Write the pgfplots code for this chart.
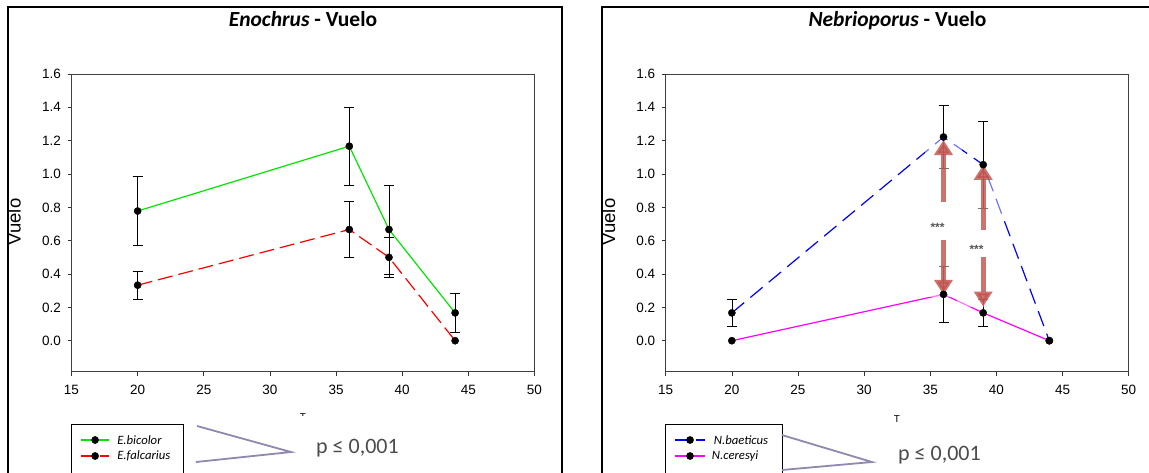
\documentclass[border=0pt]{standalone}
\usepackage{fontspec}
\setmainfont{Liberation Sans}
\newfontfamily\calibri{Carlito}
\usepackage{pgfplots}
\pgfplotsset{compat=1.18}
\usepackage{pgfplotstable}
\usetikzlibrary{arrows.meta}

\definecolor{cgreen}{RGB}{0,230,0}
\definecolor{cred}{RGB}{255,0,0}
\definecolor{cblue}{RGB}{0,0,255}
\definecolor{cmag}{RGB}{255,0,255}
\definecolor{arrowred}{RGB}{192,80,77}
\definecolor{chev}{RGB}{145,135,175}
\definecolor{ptext}{RGB}{75,75,75}

\pgfplotstableread{
x y e
20 0.778 0.205
36 1.167 0.235
39 0.667 0.266
44 0.167 0.117
}\bicolor
\pgfplotstableread{
x y e
20 0.333 0.083
36 0.667 0.167
39 0.500 0.120
44 0.000 0
}\falcarius
\pgfplotstableread{
x y e
20 0.167 0.083
36 1.222 0.190
39 1.056 0.260
44 0.000 0
}\baeticus
\pgfplotstableread{
x y e
20 0.000 0
36 0.278 0.166
39 0.167 0.083
44 0.000 0
}\ceresyi

\tikzset{legtext/.style={anchor=west, inner sep=0pt, font=\calibri\itshape\fontsize{12.7}{15}\selectfont}}

\pgfplotsset{
  vstyle/.style={
    scale only axis, width=463pt, height=297.7pt,
    xmin=15, xmax=50, ymin=-0.186, ymax=1.6,
    xtick={15,20,25,30,35,40,45,50},
    ytick={0,0.2,0.4,0.6,0.8,1.0,1.2,1.4,1.6},
    tick pos=left, tick align=outside, major tick length=4pt,
    tick style={black!80, line width=0.6pt},
    axis line style={black!75, line width=0.8pt},
    ticklabel style={font=\fontsize{13.5}{14}\selectfont},
    /pgf/number format/assume math mode=true,
    yticklabel style={/pgf/number format/.cd, fixed, fixed zerofill, precision=1, /tikz/.cd, xshift=-3pt},
    xticklabel style={yshift=-6pt},
  },
  legaxis/.style={
    scale only axis, x=1pt, y=1pt,
    xmin=0, xmax=#1, ymin=0, ymax=56,
    xtick=\empty, ytick=\empty, clip=false,
    axis line style={black, line width=0.8pt},
  },
  sline/.style={draw=#1, line width=1.2pt, mark=none},
  dots/.style={forget plot, only marks, black, mark=*, mark size=3.6pt},
  ebar/.style={forget plot, draw=none, mark=none,
    restrict expr to domain={\thisrow{e}}{0.001:5},
    error bars/.cd, y dir=both, y explicit,
    error bar style={draw=black, line width=0.7pt, solid},
    error mark options={rotate=90, draw=black, mark size=5pt, line width=0.7pt, solid}},
}

\begin{document}
\begin{tikzpicture}[x=1pt,y=1pt]
\useasboundingbox (0,0) rectangle (1149,-472);
\begin{scope}
\clip (0,0) rectangle (1149,-472);
\fill[white] (0,0) rectangle (1149,-472);

% ---------- left panel ----------
\node[rotate=90, anchor=base, font=\fontsize{18.5}{20}\selectfont] at (20.7,-222) {Vuelo};
\begin{axis}[vstyle, at={(71.5pt,-371.7pt)}, anchor=south west]
\addplot[ebar] table[x=x, y=y, y error=e] {\bicolor};
\addplot[ebar] table[x=x, y=y, y error=e] {\falcarius};
\addplot[sline=cgreen] table[x=x, y=y] {\bicolor};
\addplot[sline=cred, dash pattern=on 15pt off 6pt] table[x=x, y=y] {\falcarius};
\addplot[dots] table[x=x, y=y] {\bicolor};
\addplot[dots] table[x=x, y=y] {\falcarius};
\end{axis}
% legend (left)
\begin{axis}[legaxis=111.7, at={(71.5pt,-480pt)}, anchor=south west]
\addplot[sline=cgreen] coordinates {(9.6,40) (37.6,40)};
\addplot[sline=cred] coordinates {(9.6,24) (23.6,24)};
\addplot[sline=cred] coordinates {(28.6,24) (37.6,24)};
\addplot[dots] coordinates {(23.6,40) (23.6,24)};
\node[legtext] at (axis cs:45.6,40) {E.bicolor};
\node[legtext] at (axis cs:45.6,24) {E.falcarius};
\end{axis}
\node[anchor=base, font=\calibri\bfseries\fontsize{21.5}{24}\selectfont] at (303,-26) {\textit{Enochrus} - Vuelo};
\node[font=\fontsize{10}{11}\selectfont] at (303,-417) {T};
\fill[white] (193,-415.5) rectangle (414,-472);
\draw[chev, line width=1.8pt, line join=miter] (197,-426) -- (291,-452) -- (196,-462);
\node[anchor=base west, inner sep=0pt, text=ptext, font=\calibri\fontsize{22}{24}\selectfont] at (316,-453) {p ≤ 0,001};

% ---------- right panel ----------
\node[rotate=90, anchor=base, font=\fontsize{18.5}{20}\selectfont] at (615,-222) {Vuelo};
\begin{axis}[vstyle, at={(665.7pt,-371.7pt)}, anchor=south west]
\addplot[ebar] table[x=x, y=y, y error=e] {\baeticus};
\addplot[ebar] table[x=x, y=y, y error=e] {\ceresyi};
\addplot[sline=cblue, dash pattern=on 16pt off 8pt] table[x=x, y=y] {\baeticus};
\addplot[sline=cmag] table[x=x, y=y] {\ceresyi};
\addplot[dots] table[x=x, y=y] {\baeticus};
\addplot[dots] table[x=x, y=y] {\ceresyi};
% faded image patches behind the arrows
\fill[white, opacity=0.45] (axis cs:34.6,1.216) rectangle (axis cs:37.4,0.264);
\fill[white, opacity=0.45] (axis cs:37.0,1.055) rectangle (axis cs:40.6,0.20);
\draw[arrowred, opacity=0.8, line width=5pt, -{Triangle[width=18pt,length=15pt]}] (axis cs:36,0.833) -- (axis cs:36,1.204);
\draw[arrowred, opacity=0.8, line width=5pt, -{Triangle[width=18pt,length=15pt]}] (axis cs:36,0.605) -- (axis cs:36,0.275);
\draw[arrowred, opacity=0.8, line width=5pt, -{Triangle[width=18pt,length=15pt]}] (axis cs:39,0.665) -- (axis cs:39,1.055);
\draw[arrowred, opacity=0.8, line width=5pt, -{Triangle[width=18pt,length=15pt]}] (axis cs:39,0.50) -- (axis cs:39,0.205);
\node[font=\bfseries\fontsize{12}{13}\selectfont, text=black!65] at (axis cs:35.55,0.68) {***};
\node[font=\bfseries\fontsize{12}{13}\selectfont, text=black!65] at (axis cs:38.5,0.545) {***};
\end{axis}
% legend (right)
\begin{axis}[legaxis=116.3, at={(665.7pt,-480pt)}, anchor=south west]
\addplot[sline=cblue] coordinates {(8.9,40) (24.3,40)};
\addplot[sline=cblue] coordinates {(30,40) (39.3,40)};
\addplot[sline=cmag] coordinates {(8.9,24) (39.3,24)};
\addplot[dots] coordinates {(24.3,40) (24.3,24)};
\node[legtext] at (axis cs:48,40) {N.baeticus};
\node[legtext] at (axis cs:46,24) {N.ceresyi};
\end{axis}
\node[anchor=base, font=\calibri\bfseries\fontsize{21.5}{24}\selectfont] at (897.5,-26) {\textit{Nebrioporus} - Vuelo};
\node[font=\fontsize{10}{11}\selectfont] at (897,-419) {T};
\draw[chev, line width=1.8pt, line join=miter] (781.8,-435) -- (872,-462) -- (781.8,-470);
\node[anchor=base west, inner sep=0pt, text=ptext, font=\calibri\fontsize{22}{24}\selectfont] at (898,-460) {p ≤ 0,001};

% ---------- frames ----------
\draw[black, line width=1.6pt] (8,-480) -- (8,-7) -- (562,-7) -- (562,-480);
\draw[black, line width=1.6pt] (602,-480) -- (602,-7) -- (1160,-7);
\end{scope}
\end{tikzpicture}
\end{document}
